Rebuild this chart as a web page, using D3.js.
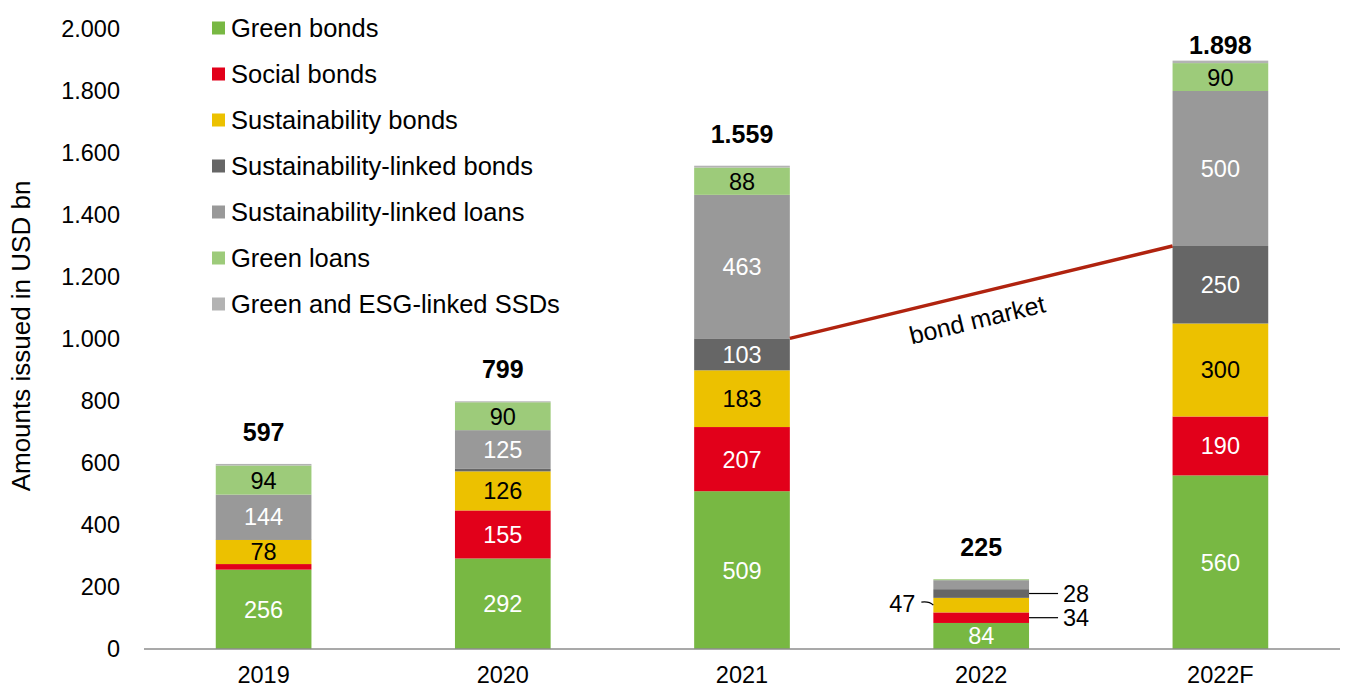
<!DOCTYPE html>
<html>
<head>
<meta charset="utf-8">
<script src="https://cdn.jsdelivr.net/npm/d3@7"></script>
<style>
  body { margin: 0; background: #fff; }
  text { font-family: Arial, "Liberation Sans", sans-serif; }
</style>
</head>
<body>
<div id="chart"></div>
<script>
// Chart size
const width = 1346;
const height = 689;

// Data
const years = ["2019", "2020", "2021", "2022", "2022F"];
const seriesNames = ["Green bonds", "Social bonds", "Sustainability bonds",
    "Sustainability-linked bonds", "Sustainability-linked loans", "Green loans",
    "Green and ESG-linked SSDs"];
const greenBonds = [256, 292, 509, 84, 560];
const socialBonds = [18, 155, 207, 34, 190];
const sustainabilityBonds = [78, 126, 183, 47, 300];
const slBonds = [2, 8, 103, 28, 250];
const slLoans = [144, 125, 463, 29, 500];
const greenLoans = [94, 90, 88, 3, 90];
const ssds = [5, 3, 6, 0, 8];
const totals = [597, 799, 1559, 225, 1898];
const yTicks = [0, 200, 400, 600, 800, 1000, 1200, 1400, 1600, 1800, 2000];

const colors = ["#78b843", "#e2001a", "#ecc100", "#666666", "#999999", "#9dcb7a", "#b3b3b3"];
// label colour per series, null = no label inside
const labelColors = ["#fff", "#fff", "#000", "#fff", "#fff", "#000", null];
const values = [greenBonds, socialBonds, sustainabilityBonds, slBonds, slLoans, greenLoans, ssds];

// Table for the stack
const table = years.map((yr, i) => {
    const row = {year: yr};
    seriesNames.forEach((s, j) => row[s] = values[j][i]);
    return row;
});
const stacked = d3.stack().keys(seriesNames)(table);

const margin = {top: 29, right: 6, bottom: 40, left: 144};

const svg = d3.select("#chart")
    .append("svg")
    .attr("width", width)
    .attr("height", height);

const x = d3.scaleBand()
    .domain(years)
    .range([margin.left, width - margin.right])
    .paddingInner(0.6)
    .paddingOuter(0.3);

const y = d3.scaleLinear()
    .domain([0, 2000])
    .range([height - margin.bottom, margin.top]);

const fmt = d => d3.format(",")(d).replace(/,/g, ".");

// Y axis labels (no line)
svg.append("g")
    .selectAll("text")
    .data(yTicks)
    .join("text")
    .attr("x", 120)
    .attr("y", d => y(d))
    .attr("dy", "0.36em")
    .attr("text-anchor", "end")
    .attr("font-size", 23.5)
    .text(fmt);

// Axis title
svg.append("text")
    .attr("transform", "translate(30,336) rotate(-90)")
    .attr("text-anchor", "middle")
    .attr("font-size", 26)
    .text("Amounts issued in USD bn");

// Bars
const layers = svg.append("g")
    .selectAll("g")
    .data(stacked)
    .join("g")
    .attr("fill", (d, i) => colors[i]);

layers.selectAll("rect")
    .data(d => d)
    .join("rect")
    .attr("x", d => x(d.data.year))
    .attr("width", x.bandwidth())
    .attr("y", d => y(d[1]))
    .attr("height", d => y(d[0]) - y(d[1]));

// Segment labels (skip small segments)
stacked.forEach((layer, i) => {
    if (!labelColors[i]) return;
    svg.append("g")
        .selectAll("text")
        .data(layer.filter(d => d[1] - d[0] >= 60))
        .join("text")
        .attr("x", d => x(d.data.year) + x.bandwidth() / 2)
        .attr("y", d => (y(d[0]) + y(d[1])) / 2)
        .attr("dy", "0.36em")
        .attr("text-anchor", "middle")
        .attr("font-size", 23.5)
        .attr("fill", labelColors[i])
        .text(d => d[1] - d[0]);
});

// X axis line
svg.append("line")
    .attr("x1", margin.left)
    .attr("x2", width - margin.right)
    .attr("y1", y(0))
    .attr("y2", y(0))
    .attr("stroke", "#8c8c8c")
    .attr("stroke-width", 1.5);

// X labels
svg.append("g")
    .selectAll("text")
    .data(years)
    .join("text")
    .attr("x", d => x(d) + x.bandwidth() / 2)
    .attr("y", y(0) + 34)
    .attr("text-anchor", "middle")
    .attr("font-size", 23.5)
    .text(d => d);

// Totals
svg.append("g")
    .selectAll("text")
    .data(totals)
    .join("text")
    .attr("x", (d, i) => x(years[i]) + x.bandwidth() / 2)
    .attr("y", d => Math.max(y(d) - 32, 45))
    .attr("dy", "0.36em")
    .attr("text-anchor", "middle")
    .attr("font-size", 25)
    .attr("font-weight", "bold")
    .text(fmt);

// Callouts for small 2022 segments
const i22 = years.indexOf("2022");
const xl = x("2022"), xr = x("2022") + x.bandwidth();
const mid = j => (y(stacked[j][i22][0]) + y(stacked[j][i22][1])) / 2;

// 47 on the left
svg.append("path")
    .attr("d", `M${xl - 12},${mid(2) - 3} Q${xl - 4},${mid(2) - 4} ${xl},${mid(2)}`)
    .attr("fill", "none").attr("stroke", "#000").attr("stroke-width", 1.2);
svg.append("text")
    .attr("x", xl - 18).attr("y", mid(2) - 2).attr("dy", "0.36em")
    .attr("text-anchor", "end").attr("font-size", 23.5)
    .text(sustainabilityBonds[i22]);

// 28 and 34 on the right
[[3, slBonds], [1, socialBonds]].forEach(([j, arr]) => {
    const yy = mid(j);
    svg.append("line")
        .attr("x1", xr).attr("x2", xr + 29)
        .attr("y1", yy).attr("y2", yy)
        .attr("stroke", "#000").attr("stroke-width", 1.2);
    svg.append("text")
        .attr("x", xr + 34).attr("y", yy).attr("dy", "0.36em")
        .attr("font-size", 23.5)
        .text(arr[i22]);
});

// Bond market line: top of sustainability-linked bonds 2021 -> 2022F
const i21 = years.indexOf("2021"), iF = years.indexOf("2022F");
const p1 = [x("2021") + x.bandwidth(), y(stacked[3][i21][1])];
const p2 = [x("2022F"), y(stacked[3][iF][1])];
svg.append("line")
    .attr("x1", p1[0]).attr("y1", p1[1])
    .attr("x2", p2[0]).attr("y2", p2[1])
    .attr("stroke", "#b0230f")
    .attr("stroke-width", 3.5);
const ang = Math.atan2(p2[1] - p1[1], p2[0] - p1[0]) * 180 / Math.PI;
svg.append("text")
    .attr("transform", `translate(${(p1[0] + p2[0]) / 2 - 2},${(p1[1] + p2[1]) / 2 + 36}) rotate(${ang})`)
    .attr("text-anchor", "middle")
    .attr("font-size", 25)
    .text("bond market");

// Legend
const legend = svg.append("g")
    .selectAll("g")
    .data(seriesNames)
    .join("g")
    .attr("transform", (d, i) => `translate(212,${28 + i * 46})`);
legend.append("rect")
    .attr("x", 0).attr("y", -6.5)
    .attr("width", 13).attr("height", 13)
    .attr("fill", (d, i) => colors[i]);
legend.append("text")
    .attr("x", 19).attr("dy", "0.36em")
    .attr("font-size", 25.5)
    .text(d => d);
</script>
</body>
</html>
